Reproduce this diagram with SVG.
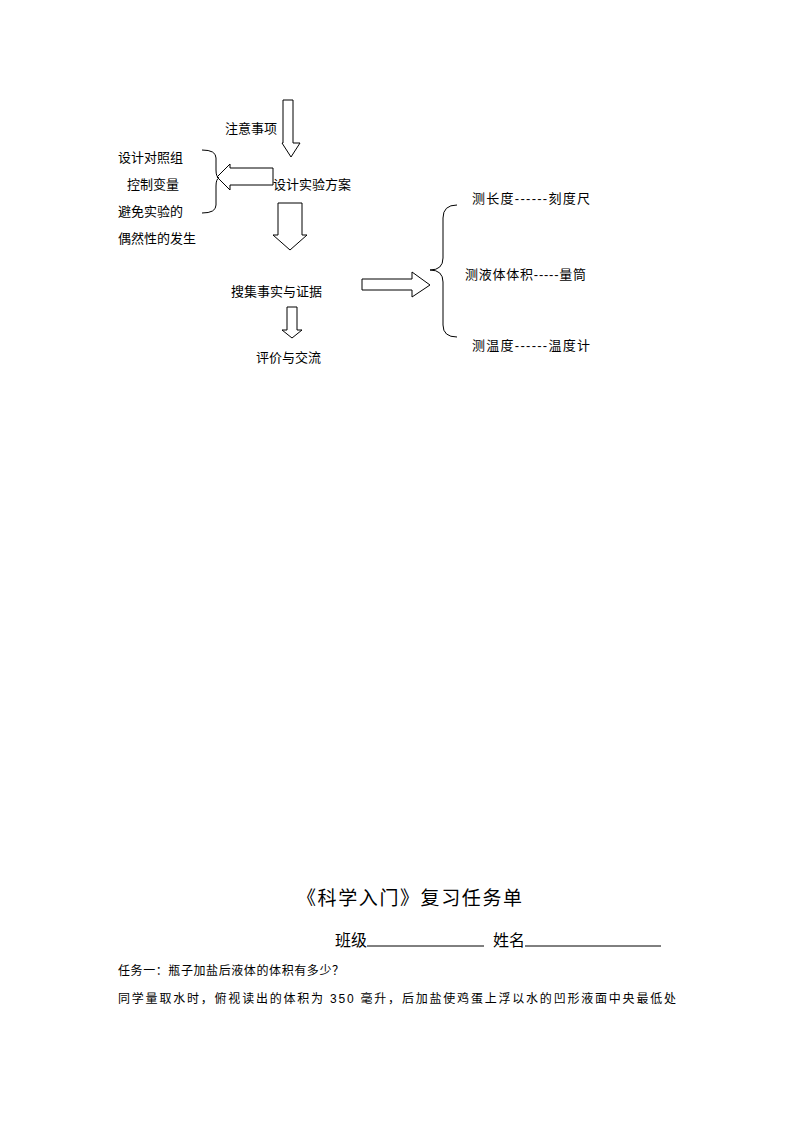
<svg xmlns="http://www.w3.org/2000/svg" width="794" height="1123" viewBox="0 0 794 1123">
<style>
text{font-family:"Liberation Sans","Noto Sans CJK SC",sans-serif;fill:#000;font-size:13px}
.a{fill:#fff;stroke:#000;stroke-width:1}
.b{fill:none;stroke:#000;stroke-width:1}
</style>
<rect width="794" height="1123" fill="#fff"/>
<g id="connectors">
<polygon class="a" points="283,100 293,100 293,143 300,143 291,157 282,143 283,143"/>
<polygon class="a" points="273,168 230,168 230,164 217,177 230,190 230,185 273,185"/>
<polygon class="a" points="278,203 302,203 302,235 307,235 290,250 273,235 278,235"/>
<polygon class="a" points="287,307 297,307 297,330 302,330 292,338 282,330 287,330"/>
<polygon class="a" points="362,279 412,279 412,272 430,285 412,297 412,290 362,290"/>
<path class="b" d="M202,150 Q216,150 216,158 L216,170 Q216,177 219,178 Q216,179 216,186 L216,205 Q216,213 202,213"/>
<path class="b" d="M457,205 Q443,205 443,218 L443,258 Q443,270 430,270 Q443,270 443,282 L443,325 Q443,337 457,337"/>
</g>
<g id="n1"><text x="225" y="133">注意事项</text></g>
<g id="n2"><text x="118" y="162">设计对照组</text><text x="127" y="189">控制变量</text><text x="118" y="216">避免实验的</text><text x="118" y="243">偶然性的发生</text></g>
<g id="n3"><text x="273" y="189">设计实验方案</text></g>
<g id="n4"><text x="231" y="296">搜集事实与证据</text></g>
<g id="n5"><text x="256" y="362">评价与交流</text></g>
<g id="n6"><text x="472" y="203" textLength="118" lengthAdjust="spacing">测长度------刻度尺</text></g>
<g id="n7"><text x="465" y="279" textLength="121" lengthAdjust="spacing">测液体体积-----量筒</text></g>
<g id="n8"><text x="472" y="350" textLength="118" lengthAdjust="spacing">测温度------温度计</text></g>
<g id="bottom">
<text x="297" y="905" textLength="225" lengthAdjust="spacing" style="font-size:19px">《科学入门》复习任务单</text>
<text x="335" y="946" style="font-size:16px">班级</text>
<line class="b" x1="367" y1="946" x2="484" y2="946"/>
<text x="493" y="946" style="font-size:16px">姓名</text>
<line class="b" x1="525" y1="946" x2="661" y2="946"/>
<text x="118" y="975" textLength="226" lengthAdjust="spacing" style="font-size:12px">任务一：瓶子加盐后液体的体积有多少？</text>
<text x="118" y="1003" textLength="558" lengthAdjust="spacing" style="font-size:12px">同学量取水时，俯视读出的体积为 350 毫升，后加盐使鸡蛋上浮以水的凹形液面中央最低处</text>
</g>
</svg>
